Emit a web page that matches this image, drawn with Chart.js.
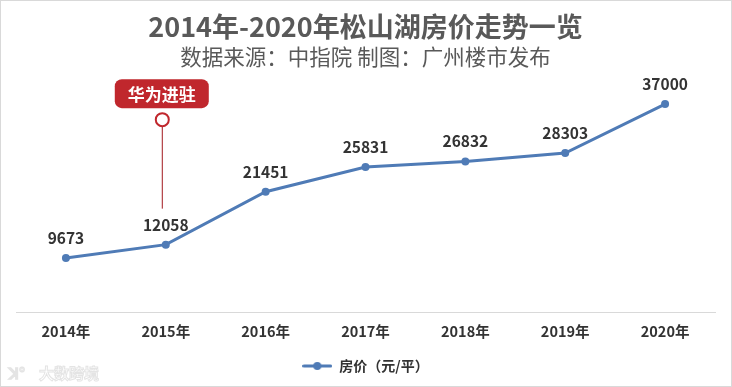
<!DOCTYPE html>
<html>
<head>
<meta charset="utf-8">
<script src="https://cdn.jsdelivr.net/npm/chart.js@4.4.1/dist/chart.umd.min.js"></script>
<style>
  html, body { margin: 0; padding: 0; background: #fff; }
  #wrap { position: relative; width: 732px; height: 387px; box-sizing: border-box; border: 1px solid #d9d9d9; }
  canvas { display: block; }
</style>
</head>
<body>
<div id="wrap"><canvas id="c" width="730" height="385"></canvas></div>
<script>
const categories = ['2014年', '2015年', '2016年', '2017年', '2018年', '2019年', '2020年'];
const prices = [9673, 12058, 21451, 25831, 26832, 28303, 37000];
const seriesName = '房价（元/平）';
const titleText = '2014年-2020年松山湖房价走势一览';
const subtitleText = '数据来源：中指院 制图：广州楼市发布';
const annotationText = '华为进驻';
const annotationIndex = 1;
const watermarkText = '大数跨境';

const FONT = '"Noto Sans CJK SC", "Noto Sans", sans-serif';
const LINE = '#4f7bb6';
const RED = '#c0272d';

// legend marker: line with dot
const marker = document.createElement('canvas');
marker.width = 30; marker.height = 10;
(function () {
  const m = marker.getContext('2d');
  m.strokeStyle = LINE; m.lineWidth = 3; m.lineCap = 'round';
  m.beginPath(); m.moveTo(1.5, 5); m.lineTo(28.5, 5); m.stroke();
  m.fillStyle = LINE; m.beginPath(); m.arc(15, 5, 4, 0, Math.PI * 2); m.fill();
})();

const labelPlugin = {
  id: 'valueLabels',
  afterDatasetsDraw(chart) {
    const ctx = chart.ctx;
    const meta = chart.getDatasetMeta(0);
    ctx.save();
    ctx.font = 'bold 15.5px ' + FONT;
    ctx.fillStyle = '#333333';
    ctx.textAlign = 'center';
    ctx.textBaseline = 'middle';
    meta.data.forEach((pt, i) => {
      ctx.fillText(String(chart.data.datasets[0].data[i]), pt.x, pt.y - 20);
    });
    ctx.restore();
  }
};

const annotationPlugin = {
  id: 'huawei',
  afterDatasetsDraw(chart) {
    const ctx = chart.ctx;
    const pt = chart.getDatasetMeta(0).data[annotationIndex];
    const x = pt.x - 4;
    const lineBottom = pt.y - 36;
    const circleY = pt.y - 125;
    const boxCY = circleY - 26;
    ctx.save();
    ctx.strokeStyle = '#a3191f';
    ctx.lineWidth = 1;
    ctx.beginPath(); ctx.moveTo(x + 0.5, circleY + 7); ctx.lineTo(x + 0.5, lineBottom); ctx.stroke();
    ctx.lineWidth = 2;
    ctx.strokeStyle = RED;
    ctx.fillStyle = '#ffffff';
    ctx.beginPath(); ctx.arc(x + 0.5, circleY, 6.5, 0, Math.PI * 2); ctx.fill(); ctx.stroke();
    const w = 94, h = 29, r = 7;
    const bx = x - w / 2, by = boxCY - h / 2;
    ctx.fillStyle = RED;
    ctx.beginPath();
    ctx.roundRect(bx, by, w, h, r);
    ctx.fill();
    ctx.fillStyle = '#ffffff';
    ctx.font = 'bold 17px ' + FONT;
    ctx.textAlign = 'center';
    ctx.textBaseline = 'middle';
    ctx.fillText(annotationText, x, boxCY + 1);
    ctx.restore();
  }
};

const watermarkPlugin = {
  id: 'watermark',
  afterDraw(chart) {
    const ctx = chart.ctx;
    ctx.save();
    ctx.font = 'bold 15px ' + FONT;
    ctx.strokeStyle = '#e4e4e4';
    ctx.lineWidth = 1;
    ctx.textBaseline = 'middle';
    ctx.strokeText('ꓘ°', 8, 372);
    ctx.strokeText(watermarkText, 38, 372);
    ctx.restore();
  }
};

new Chart(document.getElementById('c'), {
  type: 'line',
  data: {
    labels: categories,
    datasets: [{
      label: seriesName,
      data: prices,
      borderColor: LINE,
      backgroundColor: LINE,
      borderWidth: 3,
      pointRadius: 4,
      pointHoverRadius: 4,
      pointBackgroundColor: LINE,
      pointBorderWidth: 0,
      tension: 0,
      fill: false
    }]
  },
  options: {
    responsive: false,
    animation: false,
    devicePixelRatio: 1,
    layout: { padding: { left: 15, right: 16, top: 0, bottom: 3 } },
    scales: {
      x: {
        offset: true,
        grid: { display: false, drawTicks: false },
        border: { display: true, color: '#d9d9d9', width: 1 },
        ticks: { color: '#333333', font: { family: FONT, size: 14.5, weight: 'bold' }, padding: 10 }
      },
      y: {
        display: false,
        min: 0,
        max: 40000
      }
    },
    plugins: {
      title: {
        display: true,
        text: titleText,
        color: '#595959',
        font: { family: FONT, size: 27, weight: 'bold' },
        padding: { top: 10, bottom: 0 }
      },
      subtitle: {
        display: true,
        text: subtitleText,
        color: '#595959',
        font: { family: FONT, size: 21.5, weight: 'normal' },
        padding: { top: 1, bottom: 17 }
      },
      legend: {
        position: 'bottom',
        labels: {
          usePointStyle: true,
          pointStyle: marker,
          pointStyleWidth: 30,
          color: '#333333',
          font: { family: FONT, size: 14, weight: 'bold' },
          padding: 9
        }
      },
      tooltip: { enabled: false }
    }
  },
  plugins: [labelPlugin, annotationPlugin, watermarkPlugin]
});
</script>
</body>
</html>
